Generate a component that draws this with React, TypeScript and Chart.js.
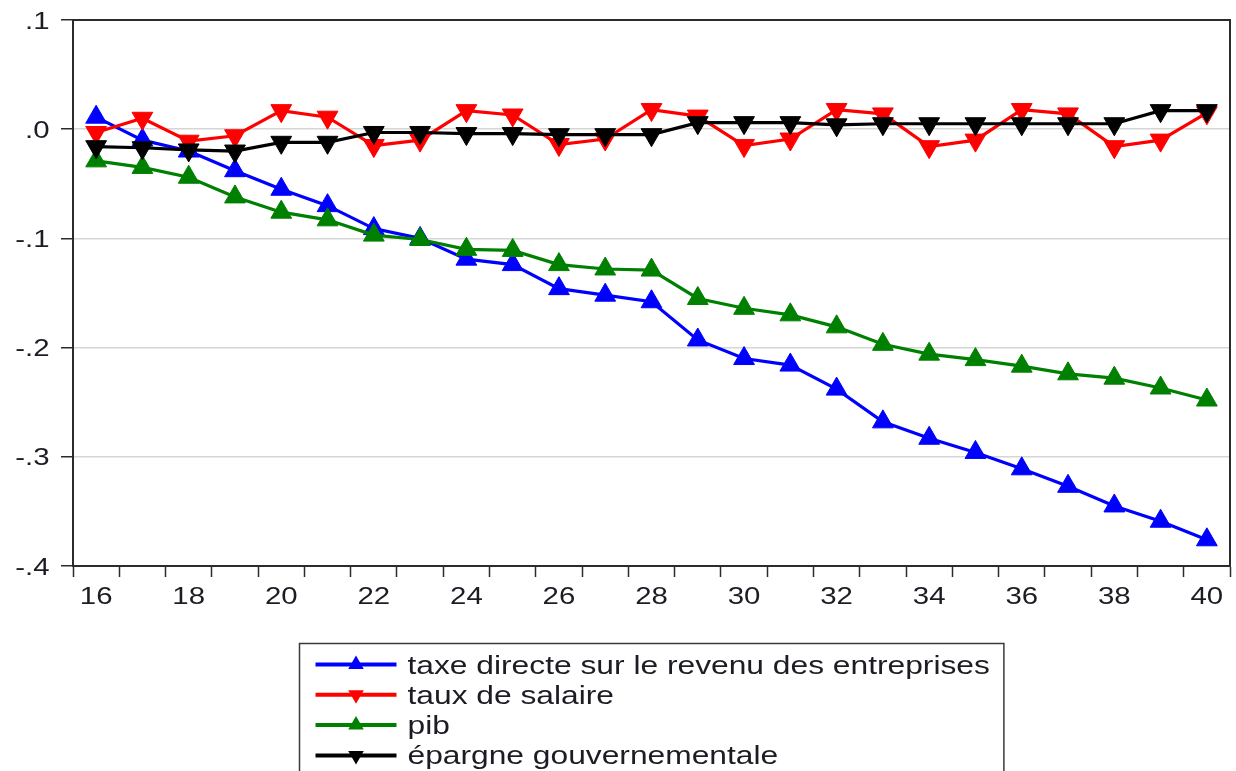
import React, { useEffect, useRef } from 'react';
import { Chart, registerables } from 'chart.js';

Chart.register(...registerables);

// ---------- data ----------
const categories = ['16', '17', '18', '19', '20', '21', '22', '23', '24', '25', '26', '27', '28', '29', '30', '31', '32', '33', '34', '35', '36', '37', '38', '39', '40'];
const xTickLabels = ['16', '', '18', '', '20', '', '22', '', '24', '', '26', '', '28', '', '30', '', '32', '', '34', '', '36', '', '38', '', '40'];
const yTickValues = [0.1, 0, -0.1, -0.2, -0.3, -0.4];
const yTickLabels = ['.1', '.0', '-.1', '-.2', '-.3', '-.4'];

const taxeDirecte = [0.011, -0.010, -0.020, -0.038, -0.055, -0.070, -0.091, -0.100, -0.119, -0.124, -0.146, -0.152, -0.158, -0.193, -0.210, -0.216, -0.238, -0.268, -0.283, -0.296, -0.311, -0.327, -0.345, -0.359, -0.376];
const tauxSalaire = [-0.003, 0.010, -0.011, -0.006, 0.017, 0.011, -0.015, -0.010, 0.017, 0.013, -0.014, -0.009, 0.018, 0.012, -0.015, -0.009, 0.018, 0.014, -0.016, -0.010, 0.018, 0.014, -0.016, -0.010, 0.015];
const pib = [-0.029, -0.035, -0.044, -0.062, -0.076, -0.083, -0.097, -0.101, -0.110, -0.111, -0.124, -0.128, -0.129, -0.155, -0.164, -0.170, -0.181, -0.197, -0.206, -0.211, -0.217, -0.224, -0.228, -0.237, -0.248];
const epargneGouv = [-0.016, -0.017, -0.019, -0.020, -0.012, -0.012, -0.003, -0.003, -0.004, -0.004, -0.005, -0.005, -0.005, 0.006, 0.006, 0.006, 0.004, 0.005, 0.005, 0.005, 0.005, 0.005, 0.005, 0.017, 0.017];

const seriesLabels = ['taxe directe sur le revenu des entreprises', 'taux de salaire', 'pib', 'épargne gouvernementale'];
const seriesColors = ['#0000ff', '#ff0000', '#008000', '#000000'];

const FONT = '"Liberation Sans", Arial, sans-serif';
const AXIS_COLOR = '#2b2b2b';
const TEXT_COLOR = '#1c1c24';

function drawTri(ctx: CanvasRenderingContext2D, x: number, y: number, r: number, down: boolean) {
  const s = down ? -1 : 1;
  ctx.beginPath();
  ctx.moveTo(x, y - s * r);
  ctx.lineTo(x + r * Math.sin((2 * Math.PI) / 3), y + s * r / 2);
  ctx.lineTo(x - r * Math.sin((2 * Math.PI) / 3), y + s * r / 2);
  ctx.closePath();
  ctx.fill();
}

const frameAndLabels = {
  id: 'frameAndLabels',
  afterDraw(chart: any) {
    const { ctx, chartArea, scales } = chart;
    ctx.save();
    // top & right frame
    ctx.strokeStyle = AXIS_COLOR;
    ctx.lineWidth = 2;
    ctx.beginPath();
    ctx.moveTo(chartArea.left, chartArea.top);
    ctx.lineTo(chartArea.right, chartArea.top);
    ctx.lineTo(chartArea.right, chartArea.bottom);
    ctx.stroke();

    // tick labels (slightly widened like the original)
    ctx.fillStyle = TEXT_COLOR;
    ctx.font = `24.5px ${FONT}`;
    ctx.textBaseline = 'alphabetic';
    const ys = scales.y;
    yTickValues.forEach((v, i) => {
      const py = ys.getPixelForValue(v);
      ctx.save();
      ctx.translate(chartArea.left - 23.5, py + 8.5);
      ctx.scale(1.2, 1);
      ctx.textAlign = 'right';
      ctx.fillText(yTickLabels[i], 0, 0);
      ctx.restore();
    });
    const xs = scales.x;
    xTickLabels.forEach((lab, i) => {
      if (!lab) return;
      const px = xs.getPixelForValue(i);
      ctx.save();
      ctx.translate(px, chartArea.bottom + 37.5);
      ctx.scale(1.2, 1);
      ctx.textAlign = 'center';
      ctx.fillText(lab, 0, 0);
      ctx.restore();
    });

    // legend box
    const datasets = chart.data.datasets;
    const sx = 1.27;
    ctx.font = `25px ${FONT}`;
    let maxW = 0;
    datasets.forEach((d: any) => { maxW = Math.max(maxW, ctx.measureText(d.label).width * sx); });
    const boxW = 16 + 81 + 11 + maxW + 14;
    const cx = (chartArea.left + chartArea.right) / 2;
    const bx = Math.round(cx - boxW / 2) + 0.5;
    const by = chartArea.bottom + 77.5;
    ctx.strokeStyle = '#3a3a3a';
    ctx.lineWidth = 1.5;
    ctx.strokeRect(bx, by, boxW, 200);
    datasets.forEach((d: any, i: number) => {
      const rowY = by + 21 + i * 30.3;
      const lx0 = bx + 16;
      const lx1 = bx + 97;
      ctx.strokeStyle = d.borderColor;
      ctx.fillStyle = d.borderColor;
      ctx.lineWidth = 4;
      ctx.beginPath();
      ctx.moveTo(lx0, rowY);
      ctx.lineTo(lx1, rowY);
      ctx.stroke();
      drawTri(ctx, (lx0 + lx1) / 2, rowY, 9, d.pointRotation === 180);
      ctx.fillStyle = TEXT_COLOR;
      ctx.save();
      ctx.translate(lx1 + 11, rowY + 9);
      ctx.scale(sx, 1);
      ctx.textAlign = 'left';
      ctx.fillText(d.label, 0, 0);
      ctx.restore();
    });
    ctx.restore();
  },
};

export default function App() {
  const canvasRef = useRef<HTMLCanvasElement | null>(null);

  useEffect(() => {
    const canvas = canvasRef.current;
    if (!canvas) return;
    const seriesData = [taxeDirecte, tauxSalaire, pib, epargneGouv];
    const down = [false, true, false, true];
    const orders = [4, 3, 2, 1];
    const chart = new Chart(canvas, {
      type: 'line',
      data: {
        labels: categories,
        datasets: seriesData.map((vals, i) => ({
          label: seriesLabels[i],
          data: vals,
          borderColor: seriesColors[i],
          backgroundColor: seriesColors[i],
          borderWidth: 3.2,
          tension: 0,
          fill: false,
          pointStyle: 'triangle',
          pointRadius: 12,
          pointHoverRadius: 12,
          pointRotation: down[i] ? 180 : 0,
          pointBackgroundColor: seriesColors[i],
          pointBorderColor: seriesColors[i],
          pointBorderWidth: 1,
          order: orders[i],
        })),
      },
      options: {
        responsive: false,
        animation: false,
        devicePixelRatio: 1,
        events: [],
        layout: { autoPadding: false, padding: { top: 20, right: 6, bottom: 0, left: 0 } },
        plugins: { legend: { display: false }, tooltip: { enabled: false } },
        scales: {
          x: {
            type: 'category',
            offset: true,
            grid: {
              offset: true,
              drawOnChartArea: false,
              drawTicks: true,
              tickLength: 11,
              tickColor: AXIS_COLOR,
              tickWidth: 1.5,
            },
            border: { display: true, color: AXIS_COLOR, width: 2 },
            ticks: { display: false, autoSkip: false },
            afterFit: (s: any) => { s.height = 205; },
          },
          y: {
            min: -0.4,
            max: 0.1,
            grid: {
              color: '#d6d6d6',
              lineWidth: 1.5,
              drawTicks: true,
              tickLength: 12,
              tickColor: AXIS_COLOR,
              tickWidth: 1.5,
            },
            border: { display: true, color: AXIS_COLOR, width: 2 },
            ticks: { display: false },
            afterBuildTicks: (s: any) => { s.ticks = yTickValues.map((v) => ({ value: v })); },
            afterFit: (s: any) => { s.width = 73; },
          },
        },
      },
      plugins: [frameAndLabels],
    });
    return () => chart.destroy();
  }, []);

  return (
    <div style={{ position: 'fixed', left: 0, top: 0, width: 1236, height: 771, background: '#ffffff', overflow: 'hidden' }}>
      <canvas ref={canvasRef} width={1236} height={771} style={{ width: '1236px', height: '771px', display: 'block' }} />
    </div>
  );
}
